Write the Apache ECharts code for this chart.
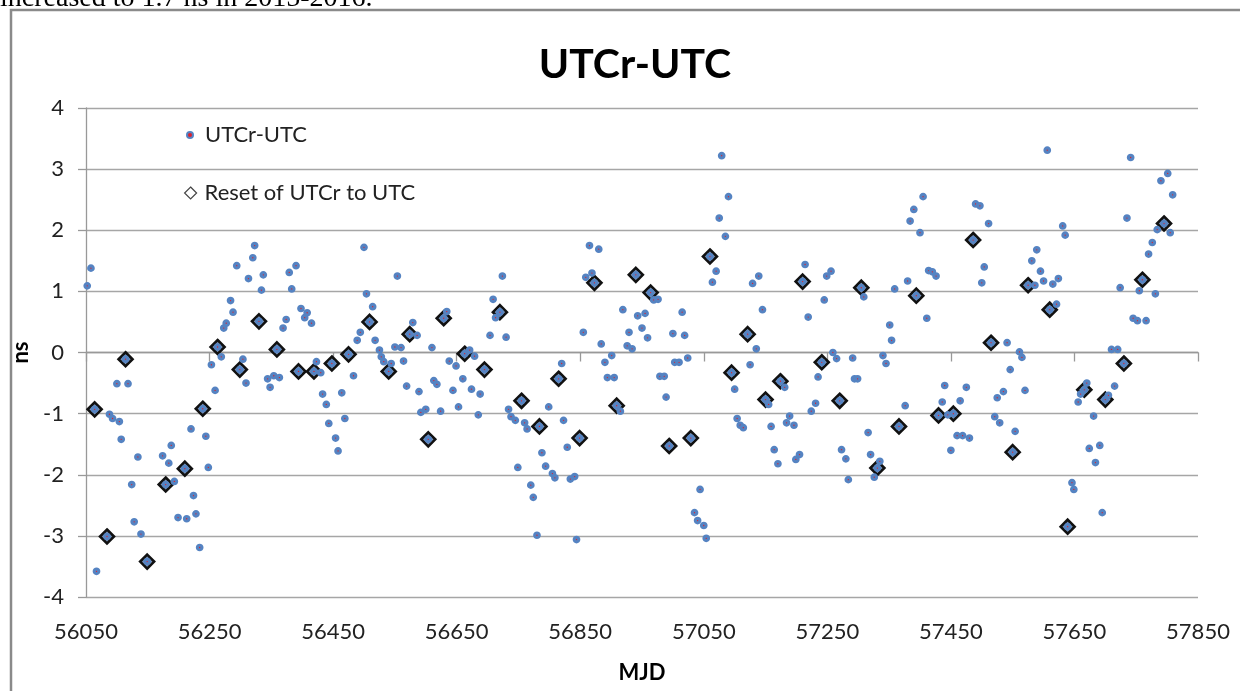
<!DOCTYPE html>
<html lang="en">

<head>
    <meta charset="UTF-8">
    <title>UTCr-UTC</title>
    <script src="https://cdn.jsdelivr.net/npm/echarts@6/dist/echarts.min.js"></script>
    <style>
        * {
            margin: 0;
            padding: 0
        }

        html,
        body {
            width: 100%;
            height: 100%;
            background: #fff;
        }

        #main {
            width: 1240px;
            height: 691px;
        }
    </style>
</head>

<body>
    <div id="main"></div>
    <script type="text/javascript">
        // UTCr-UTC samples (MJD, ns)
        var mjd = [
            56052, 56058, 56064, 56067, 56084, 56088, 56093, 56100, 56104, 56107, 56114, 56118, 56124, 56128, 56134, 56139,
            56149, 56174, 56179, 56184, 56188, 56193, 56199, 56210, 56213, 56220, 56224, 56228, 56234, 56239, 56244, 56248,
            56253, 56259, 56263, 56269, 56273, 56277, 56284, 56288, 56294, 56299, 56304, 56309, 56313, 56320, 56323, 56330,
            56334, 56337, 56344, 56348, 56354, 56359, 56363, 56369, 56374, 56379, 56383, 56390, 56394, 56398, 56404, 56408,
            56415, 56419, 56423, 56430, 56433, 56439, 56443, 56448, 56454, 56458, 56464, 56469, 56475, 56483, 56489, 56494,
            56500, 56504, 56509, 56514, 56518, 56525, 56528, 56532, 56540, 56544, 56550, 56554, 56560, 56564, 56569, 56574,
            56579, 56586, 56589, 56592, 56600, 56604, 56610, 56613, 56618, 56624, 56629, 56634, 56638, 56644, 56649, 56653,
            56660, 56663, 56671, 56674, 56679, 56685, 56688, 56695, 56704, 56709, 56713, 56720, 56724, 56730, 56734, 56738,
            56745, 56749, 56755, 56760, 56764, 56770, 56774, 56780, 56784, 56788, 56794, 56799, 56805, 56809, 56815, 56820,
            56823, 56829, 56834, 56841, 56844, 56849, 56855, 56859, 56865, 56869, 56873, 56880, 56884, 56890, 56894, 56901,
            56905, 56909, 56915, 56919, 56926, 56929, 56934, 56940, 56943, 56950, 56955, 56959, 56964, 56969, 56976, 56979,
            56986, 56989, 56994, 57000, 57003, 57010, 57015, 57019, 57024, 57029, 57035, 57040, 57044, 57050, 57054, 57060,
            57064, 57070, 57075, 57079, 57085, 57090, 57095, 57100, 57104, 57109, 57114, 57121, 57125, 57129, 57135, 57139,
            57145, 57150, 57155, 57159, 57164, 57170, 57174, 57181, 57184, 57189, 57196, 57199, 57205, 57210, 57214, 57219,
            57224, 57231, 57235, 57241, 57245, 57249, 57256, 57259, 57265, 57270, 57273, 57280, 57284, 57291, 57294, 57299,
            57305, 57309, 57316, 57320, 57326, 57331, 57335, 57340, 57345, 57351, 57354, 57359, 57366, 57376, 57380, 57384,
            57390, 57394, 57400, 57405, 57411, 57414, 57420, 57426, 57430, 57436, 57440, 57445, 57450, 57454, 57460, 57465,
            57469, 57475, 57480, 57486, 57490, 57497, 57500, 57504, 57511, 57515, 57521, 57525, 57529, 57535, 57541, 57546,
            57550, 57554, 57561, 57565, 57570, 57575, 57581, 57586, 57589, 57595, 57600, 57606, 57610, 57615, 57621, 57624,
            57631, 57635, 57639, 57646, 57649, 57656, 57660, 57666, 57670, 57674, 57681, 57684, 57691, 57695, 57700, 57705,
            57710, 57715, 57720, 57724, 57730, 57735, 57741, 57745, 57752, 57755, 57760, 57766, 57770, 57776, 57781, 57784,
            57790, 57795, 57801, 57805, 57809
        ];
        var ns = [
            1.09, 1.38, -0.93, -3.58, -3.01, -1.01, -1.08, -0.51, -1.13, -1.42, -0.11, -0.51, -2.16, -2.77, -1.71, -2.97,
            -3.42, -1.69, -2.16, -1.81, -1.52, -2.11, -2.70, -1.90, -2.72, -1.25, -2.34, -2.64, -3.19, -0.92, -1.37, -1.88,
            -0.20, -0.62, 0.09, -0.07, 0.40, 0.48, 0.85, 0.66, 1.42, -0.28, -0.11, -0.50, 1.21, 1.55, 1.75, 0.51,
            1.02, 1.27, -0.43, -0.57, -0.38, 0.05, -0.41, 0.40, 0.54, 1.31, 1.04, 1.42, -0.31, 0.72, 0.57, 0.65,
            0.48, -0.31, -0.15, -0.33, -0.68, -0.85, -1.16, -0.18, -1.40, -1.61, -0.66, -1.08, -0.03, -0.38, 0.20, 0.33,
            1.72, 0.96, 0.50, 0.75, 0.20, 0.04, -0.07, -0.15, -0.31, -0.18, 0.09, 1.25, 0.08, -0.14, -0.55, 0.30,
            0.49, 0.28, -0.64, -0.98, -0.93, -1.42, 0.08, -0.46, -0.52, -0.96, 0.56, 0.67, -0.14, -0.62, -0.22, -0.89,
            -0.43, -0.02, 0.04, -0.60, -0.06, -1.02, -0.68, -0.28, 0.28, 0.87, 0.57, 0.66, 1.25, 0.25, -0.93, -1.05,
            -1.11, -1.88, -0.79, -1.15, -1.25, -2.17, -2.37, -2.99, -1.21, -1.64, -1.86, -0.89, -1.98, -2.05, -0.43, -0.18,
            -1.11, -1.55, -2.07, -2.03, -3.06, -1.40, 0.33, 1.23, 1.75, 1.30, 1.14, 1.69, 0.14, -0.16, -0.41, -0.05,
            -0.41, -0.87, -0.96, 0.70, 0.11, 0.33, 0.06, 1.27, 0.60, 0.40, 0.64, 0.24, 0.98, 0.86, 0.87, -0.39,
            -0.39, -0.73, -1.53, 0.31, -0.16, -0.16, 0.66, 0.28, -0.09, -1.40, -2.62, -2.75, -2.24, -2.83, -3.04, 1.57,
            1.15, 1.33, 2.20, 3.22, 1.90, 2.55, -0.33, -0.60, -1.08, -1.19, -1.23, 0.30, -0.20, 1.13, 0.06, 1.25,
            0.70, -0.77, -0.85, -1.21, -1.59, -1.82, -0.47, -0.57, -1.15, -1.04, -1.19, -1.75, -1.67, 1.16, 1.44, 0.58,
            -0.96, -0.83, -0.40, -0.16, 0.86, 1.25, 1.33, 0.00, -0.10, -0.79, -1.59, -1.74, -2.08, -0.09, -0.43, -0.43,
            1.06, 0.91, -1.31, -1.67, -2.04, -1.89, -1.78, -0.05, -0.18, 0.45, 0.20, 1.04, -1.21, -0.87, 1.17, 2.15,
            2.34, 0.93, 1.96, 2.55, 0.56, 1.34, 1.32, 1.25, -1.03, -0.81, -0.54, -1.02, -1.60, -1.00, -1.36, -0.79,
            -1.36, -0.57, -1.40, 1.84, 2.43, 2.40, 1.14, 1.40, 2.11, 0.16, -1.05, -0.74, -1.15, -0.64, 0.16, -0.28,
            -1.63, -1.29, 0.01, -0.08, -0.62, 1.10, 1.50, 1.10, 1.68, 1.33, 1.17, 3.31, 0.70, 1.12, 0.79, 1.21,
            2.07, 1.92, -2.85, -2.13, -2.24, -0.81, -0.68, -0.61, -0.50, -1.57, -1.04, -1.80, -1.52, -2.62, -0.77, -0.70,
            0.05, -0.55, 0.05, 1.06, -0.18, 2.20, 3.19, 0.56, 0.52, 1.01, 1.19, 0.52, 1.61, 1.80, 0.96, 2.01,
            2.81, 2.11, 2.93, 1.96, 2.58
        ];

        // resets of UTCr to UTC
        var resetMjd = [
            56064, 56084, 56114, 56149, 56179, 56210, 56239, 56263, 56299, 56330, 56359, 56394, 56419, 56448, 56475, 56509,
            56540, 56574, 56604, 56629, 56663, 56695, 56720, 56755, 56784, 56815, 56849, 56873, 56909, 56940, 56964, 56994,
            57029, 57060, 57095, 57121, 57150, 57174, 57210, 57241, 57270, 57305, 57331, 57366, 57394, 57430, 57454, 57486,
            57515, 57550, 57575, 57610, 57639, 57666, 57700, 57730, 57760, 57795
        ];
        var resetNs = [
            -0.93, -3.01, -0.11, -3.42, -2.16, -1.90, -0.92, 0.09, -0.28, 0.51, 0.05, -0.31, -0.31, -0.18, -0.03, 0.50,
            -0.31, 0.30, -1.42, 0.56, -0.02, -0.28, 0.66, -0.79, -1.21, -0.43, -1.40, 1.14, -0.87, 1.27, 0.98, -1.53,
            -1.40, 1.57, -0.33, 0.30, -0.77, -0.47, 1.16, -0.16, -0.79, 1.06, -1.89, -1.21, 0.93, -1.03, -1.00, 1.84,
            0.16, -1.63, 1.10, 0.70, -2.85, -0.61, -0.77, -0.18, 1.19, 2.11
        ];

        var mjdStart = 56050;   // x axis runs 56050..57850, ticks every 200
        var mjdTicks = 200;

        function pairs(xs, ys) {
            return xs.map(function (x, i) { return [x - mjdStart, ys[i]]; });
        }

        var font = 'Lato, "Noto Sans", sans-serif';
        var myChart = echarts.init(document.getElementById('main'));

        var option = {
            backgroundColor: '#fff',
            animation: false,
            title: {
                text: 'UTCr-UTC',
                left: 630,
                textAlign: 'center',
                top: 39,
                textStyle: { fontFamily: font, fontWeight: 'bold', fontSize: 41, color: '#000' }
            },
            legend: [{
                data: [{ name: 'UTCr-UTC', icon: 'circle' }],
                left: 181,
                top: 117,
                itemWidth: 6,
                itemHeight: 6,
                textStyle: { fontFamily: font, fontSize: 22, color: '#222', lineHeight: 26, padding: [0, 0, 0, 7] }
            }, {
                data: [{
                    name: 'Reset of UTCr to UTC', icon: 'diamond',
                    itemStyle: { color: '#fff', borderColor: '#444', borderWidth: 1.2 }
                }],
                left: 179,
                top: 175,
                itemWidth: 12,
                itemHeight: 12,
                textStyle: { fontFamily: font, fontSize: 22, color: '#222', lineHeight: 26, padding: [0, 0, 0, 3] }
            }],
            grid: { left: 86, right: 42, top: 108, bottom: 94 },
            xAxis: {
                type: 'value',
                min: 0,
                max: 1800,
                interval: mjdTicks,
                name: 'MJD',
                nameLocation: 'middle',
                nameGap: 65,
                nameTextStyle: { fontFamily: font, fontWeight: 'bold', fontSize: 22, color: '#000' },
                axisLine: { lineStyle: { color: '#999', width: 1.3 } },
                axisTick: { length: 9, lineStyle: { color: '#999', width: 1.3 } },
                axisLabel: {
                    margin: 24, fontFamily: font, fontSize: 22, color: '#222',
                    formatter: function (v) { return String(v + mjdStart); }
                },
                splitLine: { show: false }
            },
            yAxis: {
                type: 'value',
                min: -4,
                max: 4,
                interval: 1,
                name: 'ns',
                nameLocation: 'middle',
                nameGap: 44,
                nameTextStyle: { fontFamily: font, fontWeight: 'bold', fontSize: 22, color: '#000' },
                axisLine: { show: true, lineStyle: { color: '#999', width: 1.3 } },
                axisTick: { show: true, length: 8, lineStyle: { color: '#999', width: 1.3 } },
                axisLabel: { margin: 22, fontFamily: font, fontSize: 22, color: '#222' },
                splitLine: { lineStyle: { color: '#a6a6a6', width: 1.3 } }
            },
            graphic: [{
                type: 'polyline',
                silent: true,
                shape: { points: [[11, 691], [11, 10], [1240, 10]] },
                style: { stroke: '#8a8a8a', lineWidth: 2.5, fill: null }
            }, {
                type: 'text',
                left: 0,
                top: -15,
                silent: true,
                style: { text: 'increased to 1.7 ns in 2015-2016.', font: '28px "Liberation Serif", serif', fill: '#000' }
            }],
            series: [{
                name: 'Reset of UTCr to UTC',
                type: 'scatter',
                symbol: 'diamond',
                symbolSize: 14,
                z: 2,
                itemStyle: { color: '#7d95b8', borderColor: '#111', borderWidth: 2.6, opacity: 1 },
                data: pairs(resetMjd, resetNs)
            }, {
                name: 'UTCr-UTC',
                type: 'scatter',
                symbol: 'circle',
                symbolSize: 4.5,
                z: 3,
                itemStyle: { color: '#e0202a', borderColor: '#5583c2', borderWidth: 3.2, opacity: 1 },
                data: pairs(mjd, ns)
            }]
        };

        myChart.setOption(option);
    </script>
</body>

</html>
